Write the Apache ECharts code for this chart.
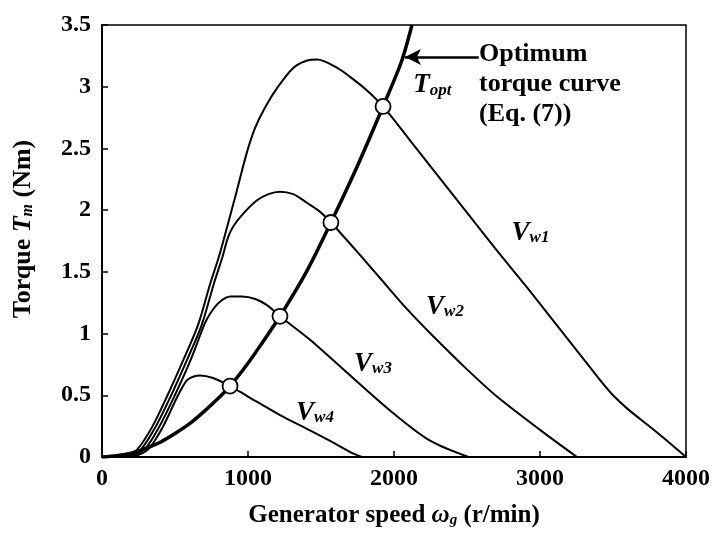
<!DOCTYPE html>
<html><head><meta charset="utf-8">
<script src="https://cdn.jsdelivr.net/npm/echarts@6/dist/echarts.min.js"></script>
<style>html,body{margin:0;padding:0;background:#fff}#c{width:713px;height:536px}</style>
</head><body><div id="c"></div>
<script>
// ---- data (generator speed r/min, torque Nm) ----
const vw1 = [[150,0],[240,0.06],[342,0.24],[445,0.49],[555,0.78],[658,1.07],[740,1.40],[800,1.62],[856,1.86],[924,2.16],[993,2.47],[1050,2.67],[1116,2.83],[1200,2.99],[1308,3.15],[1400,3.21],[1473,3.22],[1600,3.16],[1699,3.08],[1815,2.97],[1925,2.84],[2100,2.58],[2300,2.28],[2500,1.98],[2700,1.68],[2900,1.39],[3100,1.09],[3300,0.79],[3420,0.61],[3500,0.5],[3600,0.39],[3800,0.2],[4000,0]];
const vw2 = [[170,0],[265,0.06],[365,0.24],[470,0.49],[580,0.78],[683,1.07],[765,1.40],[825,1.62],[863,1.78],[900,1.87],[966,1.97],[1062,2.08],[1140,2.13],[1219,2.15],[1310,2.13],[1404,2.06],[1490,1.99],[1568,1.9],[1750,1.66],[1904,1.45],[2080,1.21],[2267,0.98],[2500,0.71],[2705,0.49],[3000,0.22],[3253,0]];
const vw3 = [[190,0],[290,0.06],[390,0.24],[495,0.49],[605,0.78],[700,1.07],[740,1.16],[800,1.25],[880,1.30],[960,1.30],[1050,1.28],[1130,1.23],[1219,1.14],[1425,0.95],[1700,0.66],[2000,0.35],[2250,0.13],[2510,0]];
const vw4 = [[210,0],[315,0.06],[415,0.24],[500,0.45],[548,0.56],[590,0.63],[671,0.66],[760,0.64],[877,0.575],[1000,0.49],[1219,0.34],[1400,0.23],[1562,0.13],[1700,0.04],[1781,0]];
const topt = [[0,0],[100,0.01],[200,0.03],[300,0.07],[400,0.12],[500,0.19],[600,0.27],[700,0.37],[800,0.48],[877,0.575],[1000,0.76],[1100,0.93],[1219,1.14],[1400,1.5],[1568,1.9],[1750,2.36],[1925,2.84],[2050,3.2],[2123,3.5]];
const optPoints = [[877,0.575],[1219,1.14],[1568,1.9],[1925,2.84]];
const curveLabels = [[2935,1.815,'1'],[2349,1.215,'2'],[1856,0.754,'3'],[1459,0.357,'4']];
const toptLabel = [[2262,3.01]];
const annotText = ['Optimum','torque curve','(Eq. (7))'];
const annotPos = [[2582,3.02]];
const arrowFrom = [2580,3.24];
const arrowTo = [2075,3.24];

const FONT = 'Liberation Serif';
const chart = echarts.init(document.getElementById('c'), null, {renderer:'canvas'});
const lineStyle = {color:'#000', width:2};
function curve(name, data){
  return {name, type:'line', data, smooth:0.3, showSymbol:false, symbol:'none',
    lineStyle, z:3, silent:true};
}
const subRich = (big, small, pad, bold) => ({
  v:{fontFamily:FONT, fontSize:big, fontStyle:'italic', fontWeight:bold, color:'#000', verticalAlign:'top', lineHeight:big},
  s:{fontFamily:FONT, fontSize:small, fontStyle:'italic', fontWeight:bold, color:'#000', verticalAlign:'bottom', lineHeight:small, padding:[pad,0,0,0]}
});
chart.setOption({
  animation:false,
  backgroundColor:'#fff',
  grid:{left:102, right:27, top:25, bottom:79, show:true, borderColor:'#000', borderWidth:1.5, backgroundColor:'transparent'},
  xAxis:{type:'value', min:0, max:4000, interval:1000,
    axisLine:{show:true, lineStyle:{color:'#000', width:2}},
    axisTick:{show:true, inside:true, length:6, lineStyle:{color:'#000', width:1.5}},
    axisLabel:{color:'#000', fontFamily:FONT, fontSize:24, fontWeight:'bold', margin:10, formatter:v=>String(v)},
    splitLine:{show:false},
    name:'Generator speed {v|ω}{s|g} (r/min)', nameLocation:'middle', nameGap:46,
    nameTextStyle:{color:'#000', fontFamily:FONT, fontSize:25, fontWeight:'bold', rich:subRich(25,15,12,'bold')}
  },
  yAxis:{type:'value', min:0, max:3.5, interval:0.5,
    axisLine:{show:true, lineStyle:{color:'#000', width:2}},
    axisTick:{show:true, inside:true, length:6, lineStyle:{color:'#000', width:1.5}},
    axisLabel:{color:'#000', fontFamily:FONT, fontSize:24, fontWeight:'bold', margin:11},
    splitLine:{show:false},
    name:'Torque {v|T}{s|m} (Nm)', nameLocation:'middle', nameGap:66,
    nameTextStyle:{color:'#000', fontFamily:FONT, fontSize:26, fontWeight:'bold', padding:[0,0,0,24], rich:subRich(26,16,12,'bold')}
  },
  series:[
    curve('Vw1', vw1), curve('Vw2', vw2), curve('Vw3', vw3), curve('Vw4', vw4),
    {name:'Topt', type:'line', data:topt, smooth:0.3, showSymbol:false, symbol:'none',
      lineStyle:{color:'#000', width:3.5}, z:4, silent:true,
      markLine:{silent:true, symbol:['arrow','none'], symbolSize:[12,16], label:{show:false},
        lineStyle:{color:'#000', width:2.5, type:'solid'},
        data:[[{coord:arrowTo},{coord:arrowFrom}]]}},
    {name:'points', type:'scatter', data:optPoints, symbol:'circle', symbolSize:15,
      itemStyle:{color:'#fff', borderColor:'#000', borderWidth:1.8, opacity:1}, z:6, silent:true},
    {name:'vwLabels', type:'scatter', data:curveLabels, symbolSize:0, z:7, silent:true, itemStyle:{opacity:1},
      label:{show:true, position:'inside', formatter:p=>'{v|V}{s|w'+p.value[2]+'}', rich:subRich(27,17,14,'bold')}},
    {name:'toptLabel', type:'scatter', data:toptLabel, symbolSize:0, z:7, silent:true, itemStyle:{opacity:1},
      label:{show:true, position:'inside', formatter:'{v|T}{s|opt}', rich:subRich(27,17,14,'bold')}},
    {name:'annot', type:'scatter', data:annotPos, symbolSize:0, z:7, silent:true, itemStyle:{opacity:1},
      label:{show:true, position:'right', distance:0, formatter:annotText.join('\n'), align:'left',
        fontFamily:FONT, fontSize:26, fontWeight:'bold', lineHeight:30, color:'#000'}}
  ]
});
</script></body></html>
